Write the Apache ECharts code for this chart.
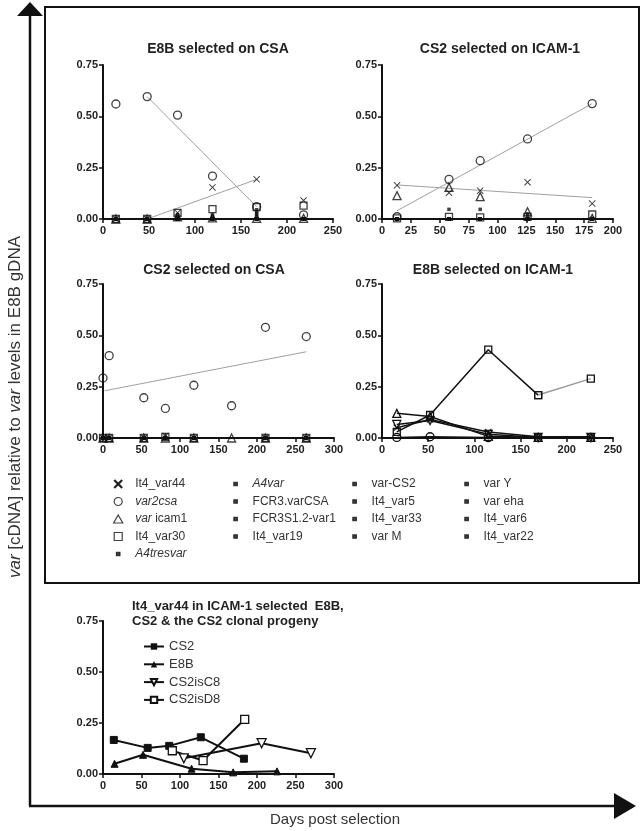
<!DOCTYPE html>
<html><head><meta charset="utf-8">
<script src="https://cdn.jsdelivr.net/npm/echarts@6/dist/echarts.min.js"></script>
<style>html,body{margin:0;padding:0;background:#fff}#c{width:642px;height:831px}</style>
</head><body><div id="c"></div>
<script>
// ---------------- DATA ----------------
const otherGenes = ['A4tresvar','A4var','FCR3.varCSA','FCR3S1.2-var1','It4_var19','var-CS2','It4_var5','It4_var33','var M','var Y','var eha','It4_var6','It4_var22'];

// Panel A: E8B selected on CSA
const aDays    = [14, 48, 81, 119, 167, 218];
const aVar44   = [0, 0, 0.03, 0.154, 0.193, 0.09];
const aVar2csa = [0.56, 0.596, 0.506, 0.209, 0.06, 0.02];
const aIcam1   = [0, 0, 0.01, 0.005, 0.003, 0.003];
const aVar30   = [0, 0, 0.03, 0.048, 0.058, 0.065];
const aOther = [
  [0, 0, 0.02, 0.02, 0.045, 0],
  [0, 0, 0.01, 0.01, 0.035, 0],
  [0, 0, 0, 0, 0.025, 0],
  [0, 0, 0, 0, 0.015, 0],
  [0, 0, 0, 0, 0, 0], [0, 0, 0, 0, 0, 0], [0, 0, 0, 0, 0, 0],
  [0, 0, 0, 0, 0, 0], [0, 0, 0, 0, 0, 0], [0, 0, 0, 0, 0, 0],
  [0, 0, 0, 0, 0, 0], [0, 0, 0, 0, 0, 0], [0, 0, 0, 0, 0, 0]
];
const aFitDays = [48, 167];
const aFit2csa = [0.596, 0.06];
const aFit44   = [0, 0.193];

// Panel B: CS2 selected on ICAM-1
const bDays    = [13, 58, 85, 126, 182];
const bVar44   = [0.164, 0.128, 0.138, 0.179, 0.075];
const bVar2csa = [0.011, 0.193, 0.284, 0.39, 0.562];
const bIcam1   = [0.114, 0.154, 0.109, 0.035, 0.003];
const bVar30   = [0.003, 0.01, 0.008, 0.01, 0.022];
const bOther = [
  [0, 0.047, 0.047, 0.025, 0.003],
  [0, 0, 0, 0.015, 0],
  [0, 0, 0, 0, 0], [0, 0, 0, 0, 0], [0, 0, 0, 0, 0], [0, 0, 0, 0, 0],
  [0, 0, 0, 0, 0], [0, 0, 0, 0, 0], [0, 0, 0, 0, 0], [0, 0, 0, 0, 0],
  [0, 0, 0, 0, 0], [0, 0, 0, 0, 0], [0, 0, 0, 0, 0]
];
const bFitDays = [13, 182];
const bFit2csa = [0.04, 0.562];
const bFit44   = [0.166, 0.104];

// Panel C: CS2 selected on CSA
const cDays    = [0, 8, 53, 81, 118, 167, 211, 264];
const cVar44   = [0, 0, 0, 0.01, 0, null, 0, 0];
const cVar2csa = [0.292, 0.401, 0.196, 0.144, 0.257, 0.157, 0.539, 0.494];
const cIcam1   = [0, 0, 0, 0, 0, 0, 0, 0];
const cVar30   = [0, 0, 0, 0.005, 0, null, 0, 0];
const cOther = [
  [0, 0, 0, 0, 0, null, 0, 0], [0, 0, 0, 0, 0, null, 0, 0], [0, 0, 0, 0, 0, null, 0, 0],
  [0, 0, 0, 0, 0, null, 0, 0], [0, 0, 0, 0, 0, null, 0, 0], [0, 0, 0, 0, 0, null, 0, 0],
  [0, 0, 0, 0, 0, null, 0, 0], [0, 0, 0, 0, 0, null, 0, 0], [0, 0, 0, 0, 0, null, 0, 0],
  [0, 0, 0, 0, 0, null, 0, 0], [0, 0, 0, 0, 0, null, 0, 0], [0, 0, 0, 0, 0, null, 0, 0],
  [0, 0, 0, 0, 0, null, 0, 0]
];
const cFitDays = [2, 264];
const cFit2csa = [0.23, 0.42];

// Panel D: E8B selected on ICAM-1
const dDays    = [16, 52, 115, 169, 226];
const dVar30   = [0.03, 0.112, 0.43, 0.209, 0.289];
const dIcam1   = [0.12, 0.105, 0.008, 0.003, 0.003];
const dVarDown = [0.066, 0.085, 0.018, 0.003, 0.003];
const dVar44   = [0.05, 0.09, 0.029, 0.006, 0.006];
const dVar2csa = [0.003, 0.006, 0.002, 0.002, 0.002];

// Panel E: It4_var44 in ICAM-1 selected lines
const eCs2Days = [14, 58, 86, 127, 183];
const eCs2     = [0.167, 0.128, 0.138, 0.18, 0.075];
const eE8bDays = [15, 52, 115, 169, 226];
const eE8b     = [0.05, 0.094, 0.026, 0.008, 0.013];
const eC8Days  = [105, 206, 270];
const eC8      = [0.077, 0.151, 0.102];
const eD8Days  = [90, 130, 184];
const eD8      = [0.114, 0.066, 0.268];

const yTicks = [0, 0.25, 0.5, 0.75];

// ---------------- STYLE ----------------
const FONT = 'Arial, "Liberation Sans", Helvetica, sans-serif';
const INK = '#111';
const X_PATH = 'path://M1,0L5,4L9,0L10,1L6,5L10,9L9,10L5,6L1,10L0,9L4,5L0,1Z';
const DOWN_PATH = 'path://M0,0L10,0L5,8.7Z';
const TRI_PATH = 'path://M5,0L10,8.7L0,8.7Z';
const SQ_PATH = 'path://M0,0L10,0L10,10L0,10Z';
const SMALL_SQ = 'path://M0,0M10,10M2.8,2.8L7.2,2.8L7.2,7.2L2.8,7.2Z';
const CLEAR = 'rgba(255,255,255,0)';

const mainStyle = {
  'It4_var44': {symbol: X_PATH, symbolSize: 7, itemStyle: {color: INK, borderColor: INK, borderWidth: 0}},
  'var2csa':   {symbol: 'circle', symbolSize: 8, itemStyle: {color: CLEAR, borderColor: INK, borderWidth: 1.3}},
  'var icam1': {symbol: 'triangle', symbolSize: 8, itemStyle: {color: CLEAR, borderColor: INK, borderWidth: 1.3}},
  'It4_var30': {symbol: 'rect', symbolSize: 7, itemStyle: {color: CLEAR, borderColor: INK, borderWidth: 1.3}}
};
const legendIcon = {'var icam1': TRI_PATH, 'It4_var30': SQ_PATH};
const otherStyle = {symbol: 'rect', symbolSize: 3.5, itemStyle: {color: INK, borderColor: INK, borderWidth: 0}};

function pts(xs, ys) { return xs.map((x, i) => [x, ys[i]]); }

const series = [];
function scatter(gi, name, xs, ys, st) {
  series.push(Object.assign({type: 'scatter', name, xAxisIndex: gi, yAxisIndex: gi, data: pts(xs, ys), z: 3}, st));
}
function fit(gi, xs, ys) {
  series.push({type: 'line', name: 'fit' + gi + series.length, xAxisIndex: gi, yAxisIndex: gi, data: pts(xs, ys),
    showSymbol: false, symbol: 'none', silent: true, z: 2, lineStyle: {color: '#a0a0a0', width: 1}});
}
function addPanel(gi, days, v44, v2csa, vicam, v30, others) {
  scatter(gi, 'It4_var30', days, v30, mainStyle['It4_var30']);
  scatter(gi, 'var icam1', days, vicam, mainStyle['var icam1']);
  otherGenes.forEach((g, k) => scatter(gi, g, days, others[k], otherStyle));
  scatter(gi, 'It4_var44', days, v44, mainStyle['It4_var44']);
  scatter(gi, 'var2csa', days, v2csa, mainStyle['var2csa']);
}
addPanel(0, aDays, aVar44, aVar2csa, aIcam1, aVar30, aOther);
fit(0, aFitDays, aFit2csa); fit(0, aFitDays, aFit44);
addPanel(1, bDays, bVar44, bVar2csa, bIcam1, bVar30, bOther);
fit(1, bFitDays, bFit2csa); fit(1, bFitDays, bFit44);
addPanel(2, cDays, cVar44, cVar2csa, cIcam1, cVar30, cOther);
fit(2, cFitDays, cFit2csa);

// Panel D lines
function dLine(name, xs, ys, st, color) {
  series.push(Object.assign({type: 'line', name, xAxisIndex: 3, yAxisIndex: 3, data: pts(xs, ys), z: 3,
    showAllSymbol: true, lineStyle: {color: color || INK, width: 1.5}}, st));
}
dLine('D circle', dDays, dVar2csa, mainStyle['var2csa']);
dLine('D x', dDays, dVar44, mainStyle['It4_var44']);
dLine('D down', dDays, dVarDown, {symbol: DOWN_PATH, symbolSize: 8, itemStyle: {color: CLEAR, borderColor: INK, borderWidth: 1.3}});
dLine('D tri', dDays, dIcam1, mainStyle['var icam1']);
dLine('D sq', dDays.slice(0, 4), dVar30.slice(0, 4), mainStyle['It4_var30']);
dLine('D sq tail', dDays.slice(3), dVar30.slice(3), mainStyle['It4_var30'], '#9a9a9a');

// Panel E lines
function eLine(name, xs, ys, st) {
  series.push(Object.assign({type: 'line', name, xAxisIndex: 4, yAxisIndex: 4, data: pts(xs, ys), z: 3,
    showAllSymbol: true, lineStyle: {color: INK, width: 2}}, st));
}
eLine('CS2', eCs2Days, eCs2, {symbol: 'rect', symbolSize: 7, itemStyle: {color: INK, borderColor: INK}});
eLine('E8B', eE8bDays, eE8b, {symbol: 'triangle', symbolSize: 7, itemStyle: {color: INK, borderColor: INK}});
eLine('CS2isC8', eC8Days, eC8, {symbol: DOWN_PATH, symbolSize: 9, itemStyle: {color: '#fff', borderColor: INK, borderWidth: 1.3}});
eLine('CS2isD8', eD8Days, eD8, {symbol: 'rect', symbolSize: 8, itemStyle: {color: '#fff', borderColor: INK, borderWidth: 1.3}});

// ---------------- AXES ----------------
const grids = [
  {left: 103, top: 65, width: 230, height: 154},
  {left: 382, top: 65, width: 231, height: 154},
  {left: 103, top: 284, width: 231, height: 154},
  {left: 382, top: 284, width: 231, height: 154},
  {left: 103, top: 621, width: 231, height: 153}
];
const xSpec = [[250, 50], [200, 25], [300, 50], [250, 50], [300, 50]];
const axisLabel = {fontSize: 11, fontWeight: 'bold', color: '#222', fontFamily: FONT};
const xAxis = xSpec.map((s, gi) => ({
  gridIndex: gi, type: 'value', min: 0, max: s[0], interval: s[1],
  axisLine: {onZero: false, lineStyle: {color: INK, width: 2}},
  axisTick: {length: 4, lineStyle: {color: INK, width: 1.5}},
  axisLabel: Object.assign({margin: 6}, axisLabel),
  splitLine: {show: false}
}));
const yAxis = grids.map((g, gi) => ({
  gridIndex: gi, type: 'value', min: yTicks[0], max: yTicks[yTicks.length - 1], interval: yTicks[1] - yTicks[0],
  axisLine: {onZero: false, lineStyle: {color: INK, width: 2}},
  axisTick: {length: 4, lineStyle: {color: INK, width: 1.5}},
  axisLabel: Object.assign({margin: 5, formatter: v => v.toFixed(2)}, axisLabel),
  splitLine: {show: false}
}));

// ---------------- LEGENDS ----------------
const legendCols = [
  ['It4_var44', 'var2csa', 'var icam1', 'It4_var30', 'A4tresvar'],
  ['A4var', 'FCR3.varCSA', 'FCR3S1.2-var1', 'It4_var19'],
  ['var-CS2', 'It4_var5', 'It4_var33', 'var M'],
  ['var Y', 'var eha', 'It4_var6', 'It4_var22']
];
const legendLeft = [113, 231, 350, 462];
const italicNames = ['var2csa', 'A4var', 'A4tresvar'];
function fmtName(n) {
  if (italicNames.indexOf(n) >= 0) return '{i|' + n + '}';
  if (n === 'var icam1') return '{i|var} icam1';
  return n;
}
function legendItem(n) {
  if (otherGenes.indexOf(n) >= 0) return {name: n, icon: SMALL_SQ};
  if (legendIcon[n]) return {name: n, icon: legendIcon[n]};
  return {name: n};
}
const legend = legendCols.map((col, ci) => ({
  orient: 'vertical', left: legendLeft[ci], top: 478, itemWidth: 24, itemHeight: 8, itemGap: 5.5,
  selectedMode: false, padding: 0, symbolKeepAspect: true,
  data: col.map(legendItem),
  formatter: fmtName,
  itemStyle: {borderColor: INK, borderWidth: 1.2},
  textStyle: {fontSize: 12, color: '#333', fontFamily: FONT,
    rich: {i: {fontSize: 12, color: '#333', fontFamily: FONT, fontStyle: 'italic'}}}
}));
legend.push({
  orient: 'vertical', left: 143, top: 640, itemWidth: 20, itemHeight: 8, itemGap: 4.8,
  selectedMode: false, padding: 0,
  data: ['CS2', 'E8B', 'CS2isC8', 'CS2isD8'],
  textStyle: {fontSize: 13, color: '#333', fontFamily: FONT}
});

// ---------------- TITLES ----------------
const titleStyle = {fontSize: 14, fontWeight: 'bold', color: '#222', fontFamily: FONT};
const title = [
  {text: 'E8B selected on CSA', left: 218, top: 42, textAlign: 'center', padding: 0, textStyle: titleStyle},
  {text: 'CS2 selected on ICAM-1', left: 500, top: 42, textAlign: 'center', padding: 0, textStyle: titleStyle},
  {text: 'CS2 selected on CSA', left: 214, top: 263, textAlign: 'center', padding: 0, textStyle: titleStyle},
  {text: 'E8B selected on ICAM-1', left: 493, top: 263, textAlign: 'center', padding: 0, textStyle: titleStyle},
  {text: 'It4_var44 in ICAM-1 selected  E8B,\nCS2 & the CS2 clonal progeny', left: 132, top: 599, padding: 0,
    textStyle: Object.assign({}, titleStyle, {fontSize: 13, lineHeight: 15})}
];

// ---------------- FRAME / ARROWS ----------------
const graphic = [
  {type: 'rect', shape: {x: 45, y: 7, width: 594, height: 576}, style: {fill: 'none', stroke: INK, lineWidth: 2}, z: 10},
  {type: 'line', shape: {x1: 30, y1: 806, x2: 30, y2: 12}, style: {stroke: INK, lineWidth: 2.5}, z: 10},
  {type: 'polygon', shape: {points: [[30, 2], [17, 16], [43, 16]]}, style: {fill: INK}, z: 10},
  {type: 'line', shape: {x1: 29, y1: 806, x2: 618, y2: 806}, style: {stroke: INK, lineWidth: 2.5}, z: 10},
  {type: 'polygon', shape: {points: [[636, 806], [614, 793], [614, 819]]}, style: {fill: INK}, z: 10},
  {type: 'text', x: 15, y: 407, rotation: Math.PI / 2, z: 10,
    style: {text: '{i|var} [cDNA] relative to {i|var} levels in E8B gDNA', align: 'center', verticalAlign: 'middle',
      fontSize: 17, fill: '#333', fontFamily: FONT,
      rich: {i: {fontStyle: 'italic', fontSize: 17, fill: '#333', fontFamily: FONT}}}},
  {type: 'text', x: 335, y: 820, z: 10,
    style: {text: 'Days post selection', align: 'center', verticalAlign: 'middle', fontSize: 15, fill: '#333', fontFamily: FONT}}
];

const chart = echarts.init(document.getElementById('c'), null, {renderer: 'canvas'});
chart.setOption({
  animation: false, backgroundColor: '#fff',
  title, legend, grid: grids, xAxis, yAxis, series, graphic
});
</script></body></html>
